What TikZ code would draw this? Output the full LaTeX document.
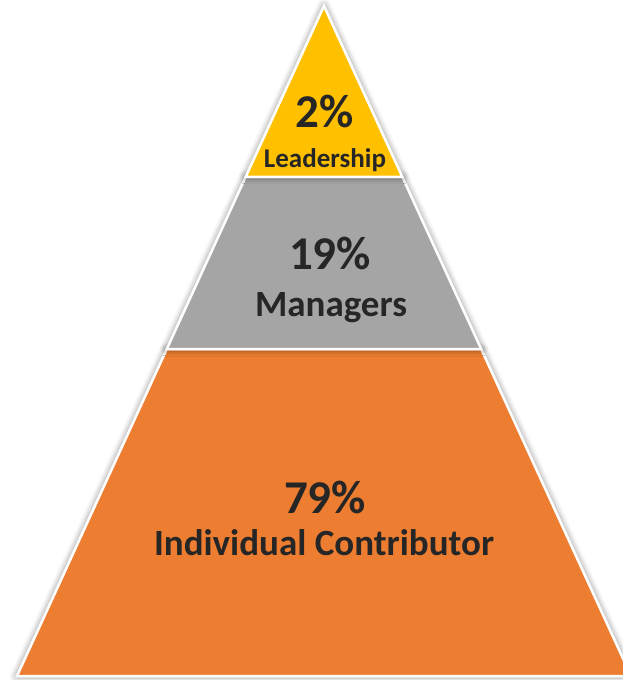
\documentclass[tikz,border=0pt]{standalone}
\usepackage{fontspec}
\setmainfont{Carlito}
\usetikzlibrary{calc, shadows.blur}
\definecolor{TierGold}{HTML}{FFC000}
\definecolor{TierGray}{HTML}{A5A5A5}
\definecolor{TierOrange}{HTML}{ED7D31}
\definecolor{TextDark}{HTML}{262626}
\tikzset{
    % Tier styles - white outline, soft shadow
    tier/.style={
        draw=white,
        line width=2.5pt,
        line join=miter,
        blur shadow={shadow xshift=0pt, shadow yshift=0pt, shadow blur radius=7pt, shadow opacity=55}
    },
    % Text styles
    pct/.style={
        anchor=base,
        inner sep=0pt,
        text=TextDark,
        font=\bfseries\fontsize{47}{50}\selectfont
    },
    lbl/.style={
        anchor=base,
        inner sep=0pt,
        text=TextDark,
        font=\bfseries\fontsize{37}{40}\selectfont
    }
}
\begin{document}
\begin{tikzpicture}[x=1pt, y=-1pt]
    \useasboundingbox (0,0) rectangle (623,680);
    % Corners of the pyramid
    \coordinate (apex) at (324,6);
    \coordinate (baseL) at (17,676);
    \coordinate (baseR) at (631,676);
    \coordinate (topL) at ($(apex)!0.2552!(baseL)$);
    \coordinate (topR) at ($(apex)!0.2552!(baseR)$);
    \coordinate (midL) at ($(apex)!0.512!(baseL)$);
    \coordinate (midR) at ($(apex)!0.512!(baseR)$);

    % Tiers
    \begin{scope}
        \clip (0,0) rectangle (623,680);
        \filldraw[tier, fill=TierOrange] (midL) -- (midR) -- (baseR) -- (baseL) -- cycle;
        \filldraw[tier, fill=TierGray] (topL) -- (topR) -- (midR) -- (midL) -- cycle;
        \filldraw[tier, fill=TierGold] (apex) -- (topR) -- (topL) -- cycle;
    \end{scope}

    % Labels
    \node[pct] (leadPct) at (325,127) {2\%};
    \node[lbl, font=\bfseries\fontsize{27}{30}\selectfont] (leadLbl) at (325,167) {Leadership};
    \node[pct] (mgrPct) at (330,269) {19\%};
    \node[lbl] (mgrLbl) at (331,316) {Managers};
    \node[pct] (icPct) at (325,513) {79\%};
    \node[lbl] (icLbl) at (324,555) {Individual Contributor};
\end{tikzpicture}
\end{document}
